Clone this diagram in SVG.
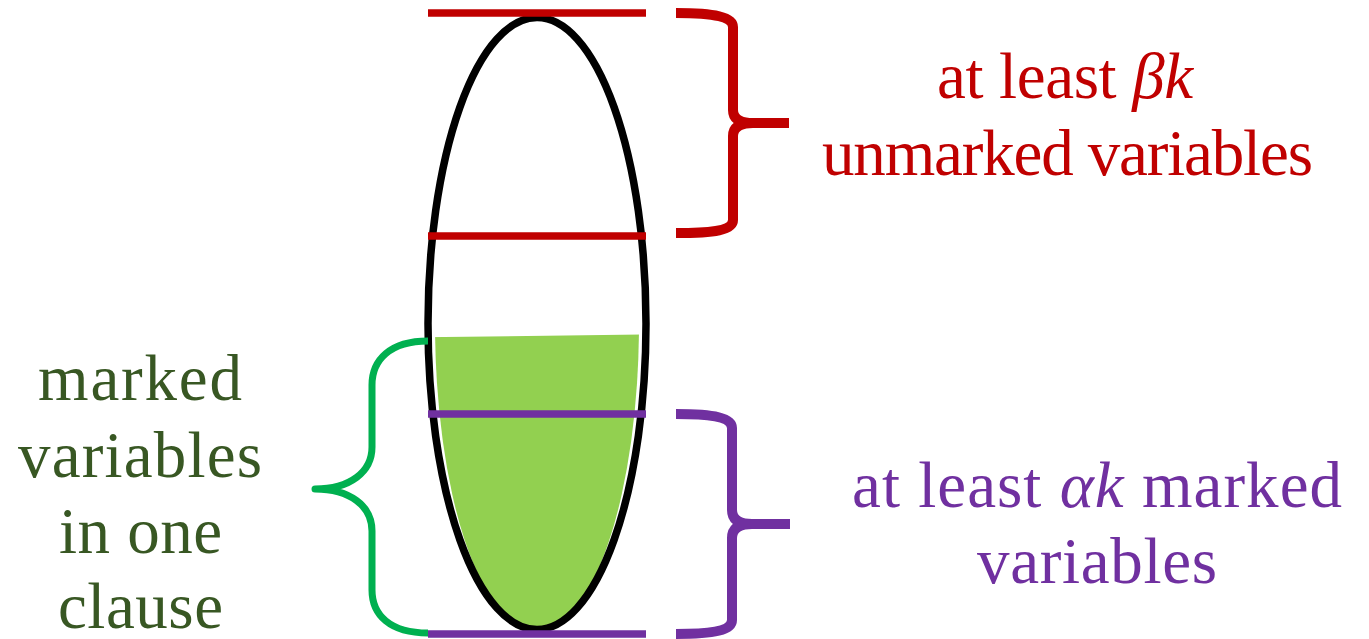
<svg xmlns="http://www.w3.org/2000/svg" width="1369" height="639" viewBox="0 0 1369 639">
  <style>
    .lbl { font-family: "Liberation Serif", "Times New Roman", serif; font-size: 65px; }
    .red { fill: #C00000; }
    .pur { fill: #7030A0; }
    .grn { fill: #385723; }
    .it { font-style: italic; }
    .brace { fill: none; stroke-linejoin: round; }
    .hline { stroke-width: 7.5; }
  </style>
  <defs>
    <clipPath id="fillClip">
      <polygon points="400,337.5 680,334 680,640 400,640"/>
    </clipPath>
  </defs>

  <g id="clause">
    <ellipse id="marked-fill" cx="537" cy="323" rx="102" ry="308" fill="#92D050" clip-path="url(#fillClip)"/>
    <ellipse cx="537" cy="323.5" rx="109" ry="306" fill="none" stroke="#000000" stroke-width="7.5"/>
  </g>

  <g id="connectors">
    <line class="hline" x1="428" y1="13" x2="646" y2="13" stroke="#C00000"/>
    <line class="hline" x1="428" y1="236" x2="646" y2="236" stroke="#C00000"/>
    <line class="hline" x1="428" y1="414" x2="646" y2="414" stroke="#7030A0"/>
    <line class="hline" x1="428" y1="634" x2="646" y2="634" stroke="#7030A0"/>
  </g>

  <g id="brace-unmarked">
    <path class="brace" stroke="#C00000" stroke-width="10" d="M676,13 C715,13 733,17 733,27 L733,110 Q733,123 753,123 L789,123 M753,123 Q733,123 733,136 L733,220 C733,230 715,233 676,233"/>
  </g>
  <g id="brace-alpha">
    <path class="brace" stroke="#7030A0" stroke-width="10" d="M676,414 C715,414 732,418 732,428 L732,510 Q732,524 752,524 L790,524 M752,524 Q732,524 732,538 L732,620 C732,630 715,634 676,634"/>
  </g>
  <g id="brace-marked">
    <path class="brace" stroke="#00B050" stroke-width="7" d="M428,341 C390,341 372,360 372,385 L372,447 C372,472 350,489 315,489 C350,489 372,506 372,531 L372,590 C372,615 390,633 428,633"/>
  </g>

  <g id="label-unmarked">
    <text class="lbl red" x="937" y="98" textLength="256" lengthAdjust="spacing">at least <tspan class="it">βk</tspan></text>
    <text class="lbl red" x="822" y="175" textLength="491" lengthAdjust="spacing">unmarked variables</text>
  </g>
  <g id="label-alpha">
    <text class="lbl pur" x="852" y="507" textLength="490" lengthAdjust="spacing">at least <tspan class="it">αk</tspan> marked</text>
    <text class="lbl pur" x="977" y="583" textLength="240" lengthAdjust="spacing">variables</text>
  </g>
  <g id="label-marked">
    <text class="lbl grn" x="38" y="400" textLength="204" lengthAdjust="spacing">marked</text>
    <text class="lbl grn" x="18" y="477" textLength="244" lengthAdjust="spacing">variables</text>
    <text class="lbl grn" x="59" y="553" textLength="163" lengthAdjust="spacing">in one</text>
    <text class="lbl grn" x="58" y="628" textLength="165" lengthAdjust="spacing">clause</text>
  </g>
</svg>
